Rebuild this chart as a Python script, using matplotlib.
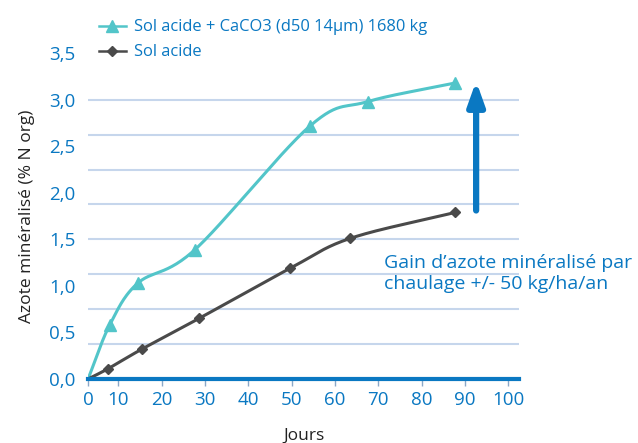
import numpy as np
import matplotlib.pyplot as plt
from matplotlib.ticker import FuncFormatter, FixedLocator

# data (x in days, y in % N org)
jours_caco3 = [3, 8, 14.5, 27.7, 54.3, 67.6, 87.8]
azote_caco3 = [0.0, 0.58, 1.03, 1.39, 2.72, 2.98, 3.18]
jours_acide = [3, 7.6, 15.4, 28.6, 49.7, 63.5, 87.8]
azote_acide = [0.0, 0.11, 0.32, 0.65, 1.19, 1.51, 1.79]
x_ticks = [3, 10, 20, 30, 40, 50, 60, 70, 80, 90, 100]
x_labels = ["0", "10", "20", "30", "40", "50", "60", "70", "80", "90", "100"]

BLUE = "#0a78c2"
CYAN = "#52c5c9"
GREY = "#4a4a4a"
plt.rcParams["font.family"] = ["Open Sans", "DejaVu Sans"]


def smooth(x, y, n=30):
    # catmull-rom curve through the points, like a smoothed line
    x = np.asarray(x, float)
    y = np.asarray(y, float)
    px = np.concatenate([[2 * x[0] - x[1]], x, [2 * x[-1] - x[-2]]])
    py = np.concatenate([[2 * y[0] - y[1]], y, [2 * y[-1] - y[-2]]])
    xs, ys = [], []
    t = np.linspace(0, 1, n)
    for i in range(1, len(px) - 2):
        for p, out in ((px, xs), (py, ys)):
            p0, p1, p2, p3 = p[i - 1], p[i], p[i + 1], p[i + 2]
            out.extend(0.5 * (2 * p1 + (p2 - p0) * t
                              + (2 * p0 - 5 * p1 + 4 * p2 - p3) * t ** 2
                              + (3 * p1 - p0 - 3 * p2 + p3) * t ** 3))
    return xs, ys


fig = plt.figure(figsize=(6.38, 4.43), dpi=100)
ax = fig.add_axes([0.138, 0.1445, 0.6755, 0.7355])

for xv, yv, col, mk, ms, lab in [
        (jours_caco3, azote_caco3, CYAN, "^", 9, "Sol acide + CaCO3 (d50 14µm) 1680 kg"),
        (jours_acide, azote_acide, GREY, "D", 5, "Sol acide")]:
    sx, sy = smooth(xv, yv)
    ax.plot(sx, sy, color=col, lw=2.2, zorder=3)
    ax.plot(xv[1:], yv[1:], ls="none", marker=mk, ms=ms, color=col, zorder=4)
    ax.plot([], [], color=col, lw=1.8, marker=mk, ms=ms, label=lab)

ax.set_xlim(3, 102.5)
ax.set_ylim(0, 3.5)
ax.xaxis.set_major_locator(FixedLocator(x_ticks))
ax.set_xticklabels(x_labels)
ax.set_yticks(np.arange(0, 3.51, 0.5))
ax.yaxis.set_major_formatter(FuncFormatter(lambda v, p: f"{v:.1f}".replace(".", ",")))
for g in np.arange(0.375, 3.01, 0.375):
    ax.axhline(g, color="#c6d6ec", lw=1.5, zorder=1)

for s in ["top", "right", "left"]:
    ax.spines[s].set_visible(False)
ax.spines["bottom"].set_color(BLUE)
ax.spines["bottom"].set_linewidth(3)
ax.spines["bottom"].set_zorder(5)
ax.tick_params(axis="x", colors="#8aa8c8", length=5, width=1, labelcolor=BLUE, labelsize=13.5, pad=4)
ax.tick_params(axis="y", length=0, labelcolor=BLUE, labelsize=13.5, pad=9)

ax.set_xlabel("Jours", fontsize=12.5, color="#222222", labelpad=13)
ax.set_ylabel("Azote minéralisé (% N org)", fontsize=12.5, color="#222222", labelpad=10)

ax.annotate("", xy=(92.6, 3.2), xytext=(92.6, 1.81),
            arrowprops=dict(arrowstyle="-|>,head_length=1.4,head_width=0.5",
                            color=BLUE, lw=4.5, shrinkA=0, shrinkB=0))
ax.text(71.4, 1.13, "Gain d\u2019azote minéralisé par\nchaulage +/- 50 kg/ha/an",
        color=BLUE, fontsize=14, ha="left", va="center", linespacing=1.2)

leg = fig.legend(loc="upper left", bbox_to_anchor=(0.132, 0.99), frameon=False,
                 fontsize=11.9, handlelength=1.6, handletextpad=0.5, labelspacing=0.55)
for t in leg.get_texts():
    t.set_color(BLUE)

fig.savefig("out.png", dpi=100)
